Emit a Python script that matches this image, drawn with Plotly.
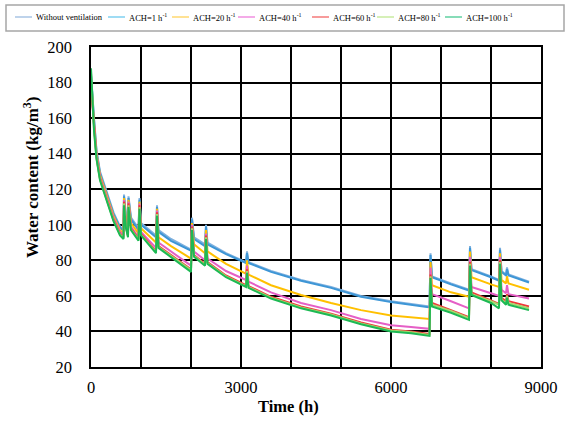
import plotly.graph_objects as go

# ---- data ----
time_h = [0, 30, 60, 110, 180, 250, 350, 450, 580, 650, 660, 700, 740, 750, 800, 950, 970, 1000,
          1300, 1320, 1350, 1600, 2000, 2020, 2060, 2280, 2300, 2330, 2700, 3100, 3120, 3150,
          3600, 4200, 4800, 5400, 6000, 6400, 6770, 6790, 6820, 7200, 7560, 7580, 7610, 8000,
          8160, 8180, 8210, 8300, 8320, 8350, 8760]

without_vent = [185, 170, 160, 142, 130, 124, 115, 107, 99, 97, 117, 105, 100, 116, 104, 98, 115, 101,
                94, 111, 97, 92, 86, 104, 93, 89, 100, 90, 84, 79, 85, 79, 74, 69, 65, 60, 57, 55.5,
                54, 84, 71, 67, 63.5, 88, 75, 71, 69, 87, 74, 72, 76, 72, 68]
ach1 = [184, 169, 159, 141, 129, 123, 114, 106, 98.5, 96.5, 116, 104, 99, 115, 103, 97, 114, 100,
        93, 110, 96, 91, 85.5, 103, 92, 88, 99, 89, 83.5, 78.5, 84, 78.5, 73.5, 68.5, 64.5, 59.5,
        56.5, 55, 53.5, 83, 70.5, 66.5, 63, 87, 74.5, 70.5, 68.5, 86, 73.5, 71.5, 75, 71.5, 67.5]
ach20 = [182, 168, 157, 140, 128, 122, 113, 105, 97, 95, 115, 102, 97, 114, 101, 95, 113, 98,
         90, 109, 93, 88, 81, 101, 89, 84, 97, 85, 78, 72.5, 80, 72, 66, 60.5, 56, 52, 49, 48,
         47, 79, 66, 62, 59.5, 85, 70.5, 66.5, 65, 84, 69, 67, 71, 67, 63.5]
ach40 = [181, 167, 156, 139, 127, 121, 112, 104, 96, 94, 114, 100, 95, 113, 99, 93, 112, 96,
         87, 108, 90, 85, 77, 100, 85, 80, 95, 81, 74, 69, 77, 68, 62, 56, 52, 47, 43.5, 42.5,
         41.5, 76, 61, 57, 53, 82, 65, 61.5, 60, 82, 63.5, 61.5, 66, 61, 58.5]
ach60 = [178, 166, 155, 138, 126, 120, 111, 103, 95, 93, 113, 99, 94, 112, 98, 92, 111, 95,
         85, 107, 88, 83, 75, 99, 83, 78, 94, 79, 71.5, 66, 75, 65.5, 59.5, 54, 50, 45, 41, 40,
         38.5, 72, 56, 52, 48, 79, 62, 57.5, 55.5, 80, 59, 57, 61, 57, 54]
ach80 = [186, 165, 154, 137.5, 125.5, 119.5, 110.5, 102.5, 94.5, 92.5, 112, 98.5, 93.5, 111, 97.5,
         91.5, 110, 94.5, 84.5, 106, 87.5, 82.5, 74.5, 98, 82.5, 77.5, 93, 78.5, 71, 65.5, 74, 65,
         59, 53.5, 49.5, 44.5, 40.5, 39.5, 38, 71, 55, 51.5, 47.5, 78, 61, 57, 55, 79, 58, 56, 60,
         56, 53]
ach100 = [188, 165, 153, 137, 125, 119, 110, 102, 94, 92, 111, 98, 93, 110, 97, 91, 109, 94,
          84, 105, 87, 82, 73.5, 97, 82, 77, 92, 78, 70.5, 65, 73, 64.5, 58.5, 53, 49, 44, 40, 39,
          37.5, 70, 54, 50.5, 46.5, 77, 60.5, 56, 53, 78, 57.5, 55, 59, 55, 52]

series_names = ["Without ventilation", "ACH=1 h<sup>-1</sup>", "ACH=20 h<sup>-1</sup>",
                "ACH=40 h<sup>-1</sup>", "ACH=60 h<sup>-1</sup>", "ACH=80 h<sup>-1</sup>",
                "ACH=100 h<sup>-1</sup>"]
series_values = [without_vent, ach1, ach20, ach40, ach60, ach80, ach100]
series_colors = ["#7FB0DE", "#3D96D6", "#FFC000", "#E55FC6", "#F0383A", "#A6D86E", "#1DB954"]
legend_colors = ["#A9C4E4", "#7FD0F0", "#FFD870", "#F08FE0", "#F57A7A", "#C8EBA0", "#5FD0A0"]

x_tickvals = [0, 3000, 6000, 9000]
x_ticktext = ["0", "3000", "6000", "9000"]

FONT = "Liberation Serif"

# ---- plot-area geometry (pixels) for placing the hand-drawn legend ----
W, H = 571, 428
ML, MR, MT, MB = 91, 30, 47, 61
PW, PH = W - ML - MR, H - MT - MB


def px(x):
    return (x - ML) / PW


def py(y):
    return (H - MB - y) / PH


legend_line_x = [15, 108, 172, 238, 312, 377, 445]
legend_line_len = 17
legend_y = 17

fig = go.Figure()
for name, vals, col in zip(series_names, series_values, series_colors):
    fig.add_trace(go.Scatter(x=time_h, y=vals, mode="lines", name=name,
                             line=dict(color=col, width=2), showlegend=False))

shapes = [dict(type="rect", xref="paper", yref="paper",
               x0=px(6), x1=px(564), y0=py(31), y1=py(5),
               line=dict(color="#A6A6A6", width=1.5), fillcolor="white", layer="above")]
annotations = []
for name, col, lx in zip(series_names, legend_colors, legend_line_x):
    shapes.append(dict(type="line", xref="paper", yref="paper",
                       x0=px(lx), x1=px(lx + legend_line_len), y0=py(legend_y), y1=py(legend_y),
                       line=dict(color=col, width=1.5), layer="above"))
    annotations.append(dict(text=name, xref="paper", yref="paper",
                            x=px(lx + legend_line_len + 2), y=py(legend_y),
                            xanchor="left", yanchor="middle", showarrow=False,
                            font=dict(family=FONT, size=8.5, color="black")))

annotations += [
    dict(text="<b>Time (h)</b>", xref="paper", yref="paper",
         x=px(288), y=py(406), xanchor="center", yanchor="middle",
         showarrow=False, font=dict(family=FONT, size=16.5)),
    dict(text="<b>Water content (kg/m<sup>3</sup>)</b>", xref="paper", yref="paper",
         x=px(31), y=py(178), textangle=-90,
         xanchor="center", yanchor="middle",
         showarrow=False, font=dict(family=FONT, size=17)),
]

fig.update_layout(
    width=W, height=H,
    margin=dict(l=ML, r=MR, t=MT, b=MB),
    paper_bgcolor="white", plot_bgcolor="white",
    font=dict(family=FONT, color="black", size=16.5),
    showlegend=False,
    xaxis=dict(range=[0, 9000], tickvals=x_tickvals, ticktext=x_ticktext,
               showgrid=True, gridcolor="black", gridwidth=1.5,
               minor=dict(dtick=1000, tick0=0, showgrid=True, gridcolor="black",
                          gridwidth=1.5, ticks=""),
               showline=True, linecolor="black", linewidth=1.5, mirror=True,
               ticks="", zeroline=False, ticklabelstandoff=4),
    yaxis=dict(range=[20, 200], dtick=20,
               showgrid=True, gridcolor="black", gridwidth=1.5,
               showline=True, linecolor="black", linewidth=1.5, mirror=True,
               ticks="", zeroline=False, ticklabelstandoff=14),
    shapes=shapes,
    annotations=annotations,
)

fig.write_html("out.html")
